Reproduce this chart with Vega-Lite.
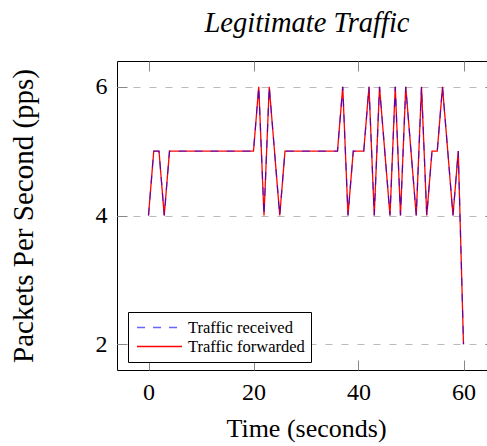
{
  "$schema": "https://vega.github.io/schema/vega-lite/v6.json",
  "width": 378,
  "height": 309,
  "autosize": {"type": "none"},
  "padding": {"left": 117, "top": 61, "right": -8, "bottom": 76},
  "background": "white",
  "title": {"text": "Legitimate Traffic", "font": "Liberation Serif", "fontStyle": "italic", "fontWeight": "normal", "fontSize": 28.5, "color": "black", "frame": "group", "anchor": "middle", "offset": 23, "dx": 1},
  "config": {
    "view": {"stroke": "black", "strokeWidth": 1},
    "axis": {"labelFont": "Liberation Serif", "titleFont": "Liberation Serif", "labelFontSize": 24, "titleFontSize": 26, "labelColor": "black", "titleColor": "black", "titleFontWeight": "normal", "domain": false, "tickColor": "#888888", "tickWidth": 1, "tickSize": -10, "grid": false},
    "legend": {"labelFont": "Liberation Serif", "labelFontSize": 16, "labelColor": "black"}
  },
  "data": {"values": [
    {"t": 0, "received": 4, "forwarded": 4},
    {"t": 1, "received": 5, "forwarded": 5},
    {"t": 2, "received": 5, "forwarded": 5},
    {"t": 3, "received": 4, "forwarded": 4},
    {"t": 4, "received": 5, "forwarded": 5},
    {"t": 5, "received": 5, "forwarded": 5},
    {"t": 6, "received": 5, "forwarded": 5},
    {"t": 7, "received": 5, "forwarded": 5},
    {"t": 8, "received": 5, "forwarded": 5},
    {"t": 9, "received": 5, "forwarded": 5},
    {"t": 10, "received": 5, "forwarded": 5},
    {"t": 11, "received": 5, "forwarded": 5},
    {"t": 12, "received": 5, "forwarded": 5},
    {"t": 13, "received": 5, "forwarded": 5},
    {"t": 14, "received": 5, "forwarded": 5},
    {"t": 15, "received": 5, "forwarded": 5},
    {"t": 16, "received": 5, "forwarded": 5},
    {"t": 17, "received": 5, "forwarded": 5},
    {"t": 18, "received": 5, "forwarded": 5},
    {"t": 19, "received": 5, "forwarded": 5},
    {"t": 20, "received": 5, "forwarded": 5},
    {"t": 21, "received": 6, "forwarded": 6},
    {"t": 22, "received": 4, "forwarded": 4},
    {"t": 23, "received": 6, "forwarded": 6},
    {"t": 24, "received": 5, "forwarded": 5},
    {"t": 25, "received": 4, "forwarded": 4},
    {"t": 26, "received": 5, "forwarded": 5},
    {"t": 27, "received": 5, "forwarded": 5},
    {"t": 28, "received": 5, "forwarded": 5},
    {"t": 29, "received": 5, "forwarded": 5},
    {"t": 30, "received": 5, "forwarded": 5},
    {"t": 31, "received": 5, "forwarded": 5},
    {"t": 32, "received": 5, "forwarded": 5},
    {"t": 33, "received": 5, "forwarded": 5},
    {"t": 34, "received": 5, "forwarded": 5},
    {"t": 35, "received": 5, "forwarded": 5},
    {"t": 36, "received": 5, "forwarded": 5},
    {"t": 37, "received": 6, "forwarded": 6},
    {"t": 38, "received": 4, "forwarded": 4},
    {"t": 39, "received": 5, "forwarded": 5},
    {"t": 40, "received": 5, "forwarded": 5},
    {"t": 41, "received": 5, "forwarded": 5},
    {"t": 42, "received": 6, "forwarded": 6},
    {"t": 43, "received": 4, "forwarded": 4},
    {"t": 44, "received": 6, "forwarded": 6},
    {"t": 45, "received": 5, "forwarded": 5},
    {"t": 46, "received": 4, "forwarded": 4},
    {"t": 47, "received": 6, "forwarded": 6},
    {"t": 48, "received": 4, "forwarded": 4},
    {"t": 49, "received": 6, "forwarded": 6},
    {"t": 50, "received": 5, "forwarded": 5},
    {"t": 51, "received": 4, "forwarded": 4},
    {"t": 52, "received": 6, "forwarded": 6},
    {"t": 53, "received": 4, "forwarded": 4},
    {"t": 54, "received": 5, "forwarded": 5},
    {"t": 55, "received": 5, "forwarded": 5},
    {"t": 56, "received": 6, "forwarded": 6},
    {"t": 57, "received": 5, "forwarded": 5},
    {"t": 58, "received": 4, "forwarded": 4},
    {"t": 59, "received": 5, "forwarded": 5},
    {"t": 60, "received": 2, "forwarded": 2}
  ]},
  "layer": [
    {
      "mark": {"type": "line", "strokeWidth": 1.3},
      "encoding": {
        "x": {"field": "t", "type": "quantitative", "scale": {"domain": [-6, 66], "nice": false, "zero": false}, "axis": {"orient": "bottom", "values": [0, 20, 40, 60], "title": "Time (seconds)", "labelPadding": 20, "titlePadding": 11}},
        "y": {"field": "forwarded", "type": "quantitative", "scale": {"domain": [1.6, 6.4], "nice": false, "zero": false}, "axis": {"orient": "left", "values": [2, 4, 6], "title": "Packets Per Second (pps)", "titleFontSize": 29, "labelPadding": 20, "titlePadding": 57, "grid": true, "gridColor": "#bbbbbb", "gridDash": [7, 9], "gridWidth": 1}},
        "color": {"datum": "Traffic forwarded", "type": "nominal", "scale": {"domain": ["Traffic received", "Traffic forwarded"], "range": ["rgba(0,0,255,0.6)", "#ff0000"]}, "legend": {"title": null, "orient": "none", "legendX": 11, "legendY": 251, "strokeColor": "black", "fillColor": "white", "padding": 6, "cornerRadius": 0, "symbolType": "stroke", "symbolSize": 2025, "symbolStrokeWidth": 1.3, "symbolOffset": 2, "clipHeight": 19, "labelFont": "Liberation Serif", "labelFontSize": 16.5, "labelColor": "black", "labelOffset": 5, "labelLimit": 400, "rowPadding": 0}},
        "strokeDash": {"datum": "Traffic forwarded", "type": "nominal", "scale": {"domain": ["Traffic received", "Traffic forwarded"], "range": [[8, 8], [1, 0]]}, "legend": null}
      }
    },
    {
      "mark": {"type": "line", "strokeWidth": 1.3},
      "encoding": {
        "x": {"field": "t", "type": "quantitative", "axis": {"orient": "top", "values": [0, 20, 40, 60], "labels": false, "title": null}},
        "y": {"field": "received", "type": "quantitative", "axis": {"orient": "right", "values": [2, 4, 6], "labels": false, "title": null}},
        "color": {"datum": "Traffic received", "type": "nominal"},
        "strokeDash": {"datum": "Traffic received", "type": "nominal", "legend": null}
      }
    }
  ],
  "resolve": {"axis": {"x": "independent", "y": "independent"}}
}
